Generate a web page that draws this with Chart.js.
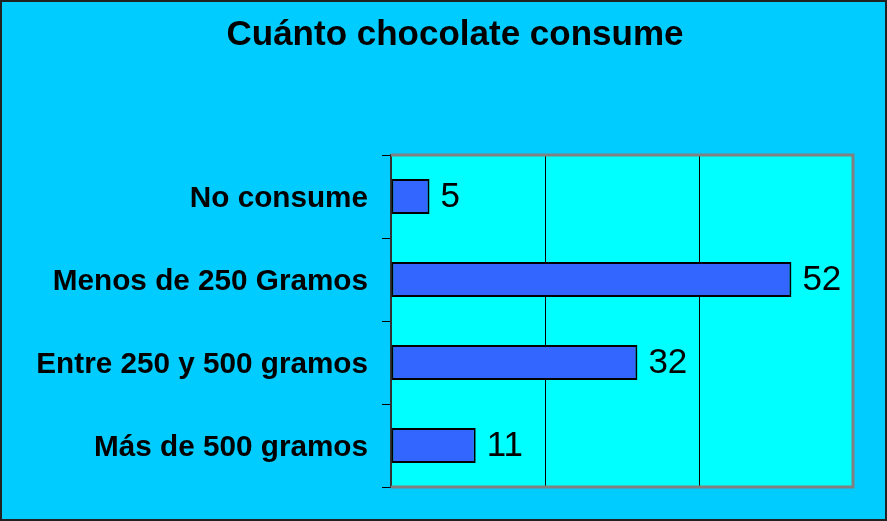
<!DOCTYPE html>
<html>
<head>
<meta charset="utf-8">
<script src="https://cdn.jsdelivr.net/npm/chart.js@4"></script>
<style>
  body { margin: 0; background: #00CCFF; }
  #wrap { width: 887px; height: 521px; }
</style>
</head>
<body>
<div id="wrap"><canvas id="myChart" width="887" height="521"></canvas></div>
<script>
const categorias = [
  'No consume',
  'Menos de 250 Gramos',
  'Entre 250 y 500 gramos',
  'Más de 500 gramos'
];
const valores = [5, 52, 32, 11];
const titulo = 'Cuánto chocolate consume';

const fuente = '"Liberation Sans", Arial, sans-serif';

// fondo de toda la figura, area del grafico, marco y titulo
const fondo = {
  id: 'fondo',
  beforeDraw(chart) {
    const ctx = chart.ctx;
    const a = chart.chartArea;
    ctx.save();
    ctx.fillStyle = '#00CCFF';
    ctx.fillRect(0, 0, chart.width, chart.height);
    ctx.fillStyle = '#00FFFF';
    ctx.fillRect(a.left, a.top, a.right - a.left, a.bottom - a.top);
    ctx.restore();
  },
  afterDraw(chart) {
    const ctx = chart.ctx;
    const a = chart.chartArea;
    ctx.save();
    ctx.strokeStyle = '#808080';
    ctx.lineWidth = 3;
    ctx.beginPath();
    ctx.moveTo(a.left, a.top);
    ctx.lineTo(a.right, a.top);
    ctx.lineTo(a.right, a.bottom);
    ctx.lineTo(a.left, a.bottom);
    ctx.stroke();
    ctx.strokeStyle = '#222';
    ctx.lineWidth = 2;
    ctx.strokeRect(1, 1, chart.width - 2, chart.height - 2);
    // titulo (centrado algo a la derecha, como en el original)
    ctx.fillStyle = '#000';
    ctx.font = 'bold 35px ' + fuente;
    ctx.textAlign = 'center';
    ctx.textBaseline = 'middle';
    ctx.fillText(titulo, 455, 35);
    ctx.restore();
  }
};

// etiquetas con el valor al final de cada barra
const etiquetas = {
  id: 'etiquetas',
  afterDatasetsDraw(chart) {
    const ctx = chart.ctx;
    const meta = chart.getDatasetMeta(0);
    ctx.save();
    ctx.font = '35px ' + fuente;
    ctx.fillStyle = '#000';
    ctx.textAlign = 'left';
    ctx.textBaseline = 'middle';
    meta.data.forEach((bar, i) => {
      ctx.fillText(String(valores[i]), bar.x + 11, bar.y + 1);
    });
    ctx.restore();
  }
};

const data = {
  labels: categorias,
  datasets: [{
    data: valores,
    backgroundColor: '#3366FF',
    borderColor: '#000',
    borderWidth: 2,
    borderSkipped: false,
    barPercentage: 0.42,
    categoryPercentage: 1
  }]
};

const config = {
  type: 'bar',
  data,
  options: {
    indexAxis: 'y',
    responsive: false,
    animation: false,
    layout: { padding: { left: 0, right: 34, top: 155, bottom: 34 } },
    plugins: {
      legend: { display: false },
      tooltip: { enabled: false },
      title: { display: false }
    },
    scales: {
      x: {
        min: 0,
        max: 60,
        ticks: { display: false, stepSize: 20 },
        border: { display: false },
        grid: {
          color: (c) => (c.tick && (c.tick.value === 20 || c.tick.value === 40)) ? '#000' : 'rgba(0,0,0,0)',
          lineWidth: 1,
          drawTicks: false
        },
        afterFit(s) { s.height = 0; }
      },
      y: {
        border: { display: true, color: '#333', width: 2 },
        grid: { drawOnChartArea: false, color: '#000', tickLength: 9 },
        ticks: {
          color: '#000',
          padding: 14,
          labelOffset: 2,
          font: { family: fuente, size: 29.7, weight: 'bold' }
        },
        afterFit(s) { s.width = 391; }
      }
    }
  },
  plugins: [fondo, etiquetas]
};

var myChart = new Chart(document.getElementById('myChart'), config);
</script>
</body>
</html>
